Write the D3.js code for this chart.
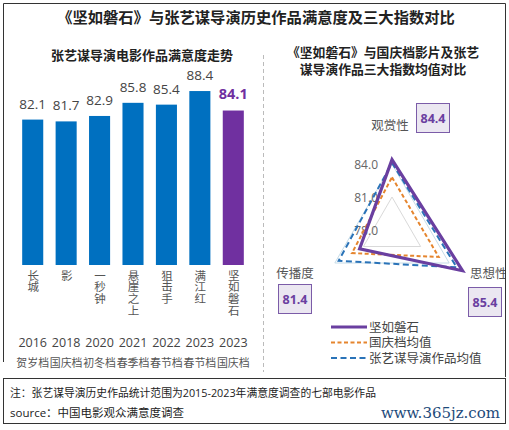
<!DOCTYPE html>
<html><head><meta charset="utf-8">
<script src="https://cdn.jsdelivr.net/npm/d3@7"></script>
<style>
body{margin:0;background:#fff;}
svg text{font-family:"Open Sans","Noto Sans CJK SC",sans-serif;}
</style></head>
<body><svg id="c" width="509" height="430"></svg>
<script>
// ---- data ----
const films = ["长城","影","一秒钟","悬崖之上","狙击手","满江红","坚如磐石"];
const years = ["2016","2018","2020","2021","2022","2023","2023"];
const seasons = ["贺岁档","国庆档","初冬档","春季档","春节档","春节档","国庆档"];
const satisfaction = [82.1,81.7,82.9,85.8,85.4,88.4,84.1];

const radarAxes = ["观赏性","思想性","传播度"];
const radarTicks = [78,81,84];
const seriesNames = ["坚如磐石","国庆档均值","张艺谋导演作品均值"];
const jianRuPanShi = [84.4,85.4,81.4];
const guoQingAvg = [82.8,82.9,82.2];
const zhangAvg = [84.1,84.8,83.6];

// ---- drawing ----
const svg = d3.select("#c");
const BLUE = "#0070c0", PURPLE = "#7030a0", LPURP = "#6a3fa0";

svg.append("defs").append("clipPath").attr("id","clipMain")
  .append("rect").attr("x",3).attr("y",3).attr("width",502).attr("height",375);

// frames
svg.append("path").attr("d","M3.5,362 V3.5 H505.5 V377").attr("fill","none").attr("stroke","#333").attr("stroke-width",1);
svg.append("rect").attr("x",3.5).attr("y",378.5).attr("width",502).attr("height",45)
  .attr("fill","none").attr("stroke","#333").attr("stroke-width",1);

// title
svg.append("text").attr("x",256).attr("y",22.5).attr("text-anchor","middle")
  .attr("font-size",15.3).attr("font-weight","bold").attr("fill","#222")
  .text("《坚如磐石》与张艺谋导演历史作品满意度及三大指数对比");

// separator
svg.append("line").attr("x1",263.5).attr("x2",263.5).attr("y1",55).attr("y2",372)
  .attr("stroke","#bbb").attr("stroke-dasharray","4,3");

// ---- bar chart ----
svg.append("text").attr("x",142).attr("y",60).attr("text-anchor","middle")
  .attr("font-size",13).attr("font-weight","bold").attr("fill","#222")
  .text("张艺谋导演电影作品满意度走势");

const x = d3.scaleBand().domain(d3.range(films.length)).range([16,250]).paddingInner(0.37).paddingOuter(0.185);
const y = d3.scaleLinear().domain([50,100]).range([265,38.5]);
const last = films.length-1;

const g = svg.append("g");
g.selectAll("rect.bar").data(satisfaction).join("rect").attr("class","bar")
  .attr("x",(d,i)=>x(i)).attr("width",x.bandwidth())
  .attr("y",d=>y(d)).attr("height",d=>y(50)-y(d))
  .attr("fill",(d,i)=>i===last?PURPLE:BLUE);

g.selectAll("text.val").data(satisfaction).join("text").attr("class","val")
  .attr("x",(d,i)=>x(i)+x.bandwidth()/2)
  .attr("y",(d,i)=>y(d)-(i===last?12:11))
  .attr("text-anchor","middle")
  .attr("font-size",(d,i)=>i===last?14.5:13.5)
  .attr("font-weight",(d,i)=>i===last?"bold":"normal")
  .attr("fill",(d,i)=>i===last?PURPLE:"#444")
  .text(d=>d.toFixed(1));

// film names written vertically
g.selectAll("text.film").data(films).join("text").attr("class","film")
  .attr("x",(d,i)=>x(i)+x.bandwidth()/2).attr("y",269.5)
  .attr("writing-mode","tb").style("text-orientation","upright")
  .attr("letter-spacing",0.3)
  .attr("font-size",11.5).attr("fill","#555").text(d=>d);

g.selectAll("text.yr").data(years).join("text").attr("class","yr")
  .attr("x",(d,i)=>x(i)+x.bandwidth()/2).attr("y",346.5)
  .attr("text-anchor","middle").attr("font-size",12.5).attr("fill","#444").text(d=>d);
g.selectAll("text.ss").data(seasons).join("text").attr("class","ss")
  .attr("x",(d,i)=>x(i)+x.bandwidth()/2).attr("y",366.5)
  .attr("text-anchor","middle").attr("font-size",10.9).attr("fill","#555").text(d=>d);

// ---- radar ----
const rg = svg.append("g").attr("clip-path","url(#clipMain)");
const sub = rg.append("text").attr("x",383).attr("y",56.5).attr("text-anchor","middle")
  .attr("font-size",12.8).attr("font-weight","bold").attr("fill","#222");
sub.append("tspan").attr("x",383).attr("dy",0).text("《坚如磐石》与国庆档影片及张艺");
sub.append("tspan").attr("x",383).attr("dy",17).text("谋导演作品三大指数均值对比");

const cx = 392, cy = 230;
const r = d3.scaleLinear().domain([78,84]).range([0,66]);
const ang = d3.scaleOrdinal().domain(d3.range(3)).range([-Math.PI/2, Math.PI/6, Math.PI*5/6]);
const pt = (v,i)=>[cx+r(v)*Math.cos(ang(i)), cy+r(v)*Math.sin(ang(i))];
const poly = vals => "M"+vals.map((v,i)=>pt(v,i).join(",")).join("L")+"Z";

// grid
[81,84].forEach((t,k)=>{
  rg.append("path").attr("d",poly([t,t,t])).attr("fill","none")
    .attr("stroke",k===0?"#d9d9d9":"#c6dce8").attr("stroke-width",1);
});
radarTicks.forEach(t=>{
  rg.append("text").attr("x",378).attr("y",cy-r(t)+4.5).attr("text-anchor","end")
    .attr("font-size",12).attr("fill","#666").text(t.toFixed(1));
});

const series = [
  {vals:zhangAvg, color:"#2a73b8", w:2, dash:"6,3.5"},
  {vals:guoQingAvg, color:"#e5852e", w:2, dash:"4,2.5"},
  {vals:jianRuPanShi, color:LPURP, w:3.2, dash:null}
];
series.forEach(s=>{
  rg.append("path").attr("d",poly(s.vals)).attr("fill","none")
    .attr("stroke",s.color).attr("stroke-width",s.w)
    .attr("stroke-linejoin","miter")
    .attr("stroke-dasharray",s.dash);
});

// axis labels + value boxes
const labPos = [{x:390,y:129.5,a:"middle"},{x:470,y:277.5,a:"start"},{x:295,y:277.5,a:"middle"}];
const boxPos = [{x:416,y:103},{x:468,y:287},{x:278,y:284}];
radarAxes.forEach((a,i)=>{
  rg.append("text").attr("x",labPos[i].x).attr("y",labPos[i].y).attr("text-anchor",labPos[i].a)
    .attr("font-size",12.5).attr("fill","#555").text(a);
  rg.append("rect").attr("x",boxPos[i].x+0.5).attr("y",boxPos[i].y+0.5).attr("width",33).attr("height",29)
    .attr("fill","#ebe7f1").attr("stroke","#7b5ca8").attr("stroke-width",1);
  rg.append("text").attr("x",boxPos[i].x+17).attr("y",boxPos[i].y+19.5).attr("text-anchor","middle")
    .attr("font-size",12.5).attr("font-weight","bold").attr("fill",LPURP).text(jianRuPanShi[i].toFixed(1));
});

// legend
const leg = [
  {color:LPURP,w:3.2,dash:null},
  {color:"#e5852e",w:2,dash:"4,2.5"},
  {color:"#2a73b8",w:2,dash:"6,3.5"}
];
seriesNames.forEach((n,i)=>{
  const yy = 327 + i*15.5;
  rg.append("line").attr("x1",331).attr("x2",367).attr("y1",yy).attr("y2",yy)
    .attr("stroke",leg[i].color).attr("stroke-width",leg[i].w).attr("stroke-dasharray",leg[i].dash);
  rg.append("text").attr("x",369).attr("y",yy+4.5).attr("font-size",12.5).attr("fill","#444").text(n);
});

// notes
svg.append("text").attr("x",10).attr("y",397).attr("font-size",10.8).attr("fill","#222")
  .text("注：张艺谋导演历史作品统计范围为2015-2023年满意度调查的七部电影作品");
svg.append("text").attr("x",10).attr("y",417).attr("font-size",11.5).attr("fill","#222")
  .text("source：中国电影观众满意度调查");
svg.append("text").attr("x",500).attr("y",418).attr("text-anchor","end")
  .style("font-family","'DejaVu Serif',serif").attr("font-size",15).attr("fill","#1d4a7a")
  .text("www.365jz.com");
</script></body></html>
